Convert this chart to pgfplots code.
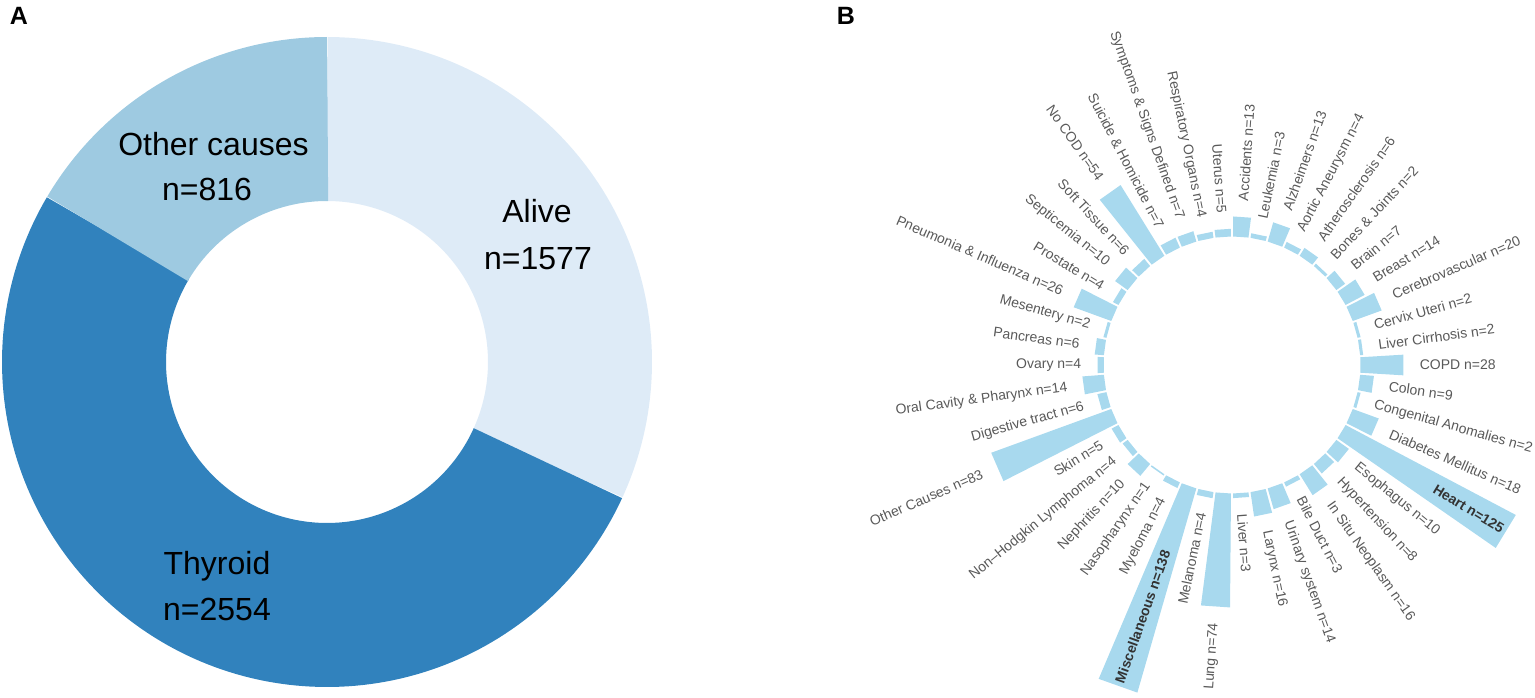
\documentclass[border=0pt]{standalone}
\usepackage{fontspec}
\setmainfont{Liberation Sans}
\setsansfont{Liberation Sans}
\usepackage{pgfplots}
\pgfplotsset{compat=1.18}
\usepgfplotslibrary{polar}

\definecolor{alivecol}{RGB}{222,235,247}
\definecolor{thycol}{RGB}{49,130,189}
\definecolor{othcol}{RGB}{158,202,225}
\definecolor{barcol}{RGB}{168,217,238}
\definecolor{labgray}{RGB}{89,89,89}
\definecolor{labdark}{RGB}{51,51,51}

% panel A counts
\def\nAlive{1577}
\def\nThy{2554}
\def\nOth{816}

\begin{document}
\begin{tikzpicture}
\useasboundingbox (0,0) rectangle (1535pt,698pt);

% ---------- A: donut ----------
\pgfmathsetmacro\tot{\nAlive+\nThy+\nOth}
\pgfmathsetmacro\aA{90-360*(\nAlive/\tot)}
\pgfmathsetmacro\aB{\aA-360*(\nThy/\tot)}
% small overlaps so no seam shows between wedges
\pgfmathsetmacro\aAo{\aA+0.15}
\pgfmathsetmacro\aBo{\aB+0.15}
\begin{axis}[
    hide axis, clip=false,
    x=1pt, y=1pt,
    xmin=-325, xmax=325, ymin=-325, ymax=325,
    at={(327pt,336pt)}, anchor=center,
    ]
    \addplot[draw=alivecol, line width=164pt, data cs=polar, domain=\aA:90, samples=90] ({x},{243});
    \addplot[draw=thycol, line width=164pt, data cs=polar, domain=\aB:\aAo, samples=140] ({x},{243});
    \addplot[draw=othcol, line width=164pt, data cs=polar, domain=-270.15:\aBo, samples=60] ({x},{243});
\end{axis}

\begin{scope}[every node/.style={font=\fontsize{32}{36}\selectfont, inner sep=0pt, anchor=base}]
    \node at (537pt,475pt) {Alive};
    \node at (538pt,428.4pt) {n=1577};
    \node at (213.5pt,542.6pt) {Other causes};
    \node at (207pt,497.3pt) {n=816};
    \node at (217pt,123.5pt) {Thyroid};
    \node at (217pt,77.3pt) {n=2554};
\end{scope}

\node[font=\fontsize{25}{28}\selectfont\bfseries, inner sep=0pt] at (19pt,682pt) {A};
\node[font=\fontsize{25}{28}\selectfont\bfseries, inner sep=0pt] at (846pt,682pt) {B};

% ---------- B: circular bars ----------
\begin{axis}[
    hide axis, clip=false,
    x=1pt, y=1pt,
    xmin=-300, xmax=300, ymin=-300, ymax=300,
    at={(1232pt,333pt)}, anchor=center,
    ]
    \foreach \n [count=\i from 0] in {13,3,13,4,6,2,7,14,20,2,2,28,9,2,18,125,10,8,16,3,14,16,3,74,4,138,4,1,10,4,5,83,6,14,4,6,2,26,4,10,6,54,7,7,4,5} {
        \pgfmathsetmacro\a{86.087-7.8261*\i-3.45}
        \pgfmathsetmacro\b{86.087-7.8261*\i+3.45}
        \pgfmathsetmacro\r{128.5+1.54*\n}
        \edef\temp{\noexpand\addplot[draw=none, fill=barcol, data cs=polar] coordinates {(\a,128.5) (\a,\r) (\b,\r) (\b,128.5)};}
        \temp
    }
\end{axis}

\begin{scope}[shift={(1232pt,333pt)}]
\foreach \lab/\n [count=\i from 0] in {
    Accidents/13, Leukemia/3, Alzheimers/13, Aortic Aneurysm/4, Atherosclerosis/6,
    Bones \& Joints/2, Brain/7, Breast/14, Cerebrovascular/20, Cervix Uteri/2,
    Liver Cirrhosis/2, COPD/28, Colon/9, Congenital Anomalies/2, Diabetes Mellitus/18,
    Heart/125, Esophagus/10, Hypertension/8, In Situ Neoplasm/16, Bile Duct/3,
    Urinary system/14, Larynx/16, Liver/3, Lung/74, Melanoma/4,
    Miscellaneous/138, Myeloma/4, Nasopharynx/1, Nephritis/10, Non--Hodgkin Lymphoma/4,
    Skin/5, Other Causes/83, Digestive tract/6, Oral Cavity \& Pharynx/14, Ovary/4,
    Pancreas/6, Mesentery/2, Pneumonia \& Influenza/26, Prostate/4, Septicemia/10,
    Soft Tissue/6, No COD/54, Suicide \& Homicide/7, Symptoms \& Signs Defined/7, Respiratory Organs/4,
    Uterus/5} {
    \pgfmathsetmacro\ang{86.087-7.8261*\i}
    \pgfmathsetmacro\rend{128.5+1.54*\n}
    \pgfmathsetmacro\rout{\rend+16}
    \pgfmathsetmacro\rin{\rend-4}
    \pgfmathsetmacro\angb{\ang+180}
    \ifnum\i=15
        \node[rotate=\ang, anchor=east, inner sep=0pt, text=labdark,
              font=\fontsize{14}{16}\selectfont\bfseries] at (\ang:\rin pt) {\lab\ n=\n};
    \else\ifnum\i=25
        \node[rotate=\angb, anchor=west, inner sep=0pt, text=labdark,
              font=\fontsize{14}{16}\selectfont\bfseries] at (\ang:\rin pt) {\lab\ n=\n};
    \else
        \ifdim\ang pt<-90pt
            \node[rotate=\angb, anchor=east, inner sep=0pt, text=labgray,
                  font=\fontsize{14}{16}\selectfont] at (\ang:\rout pt) {\lab\ n=\n};
        \else
            \node[rotate=\ang, anchor=west, inner sep=0pt, text=labgray,
                  font=\fontsize{14}{16}\selectfont] at (\ang:\rout pt) {\lab\ n=\n};
        \fi
    \fi\fi
}
\end{scope}
\end{tikzpicture}
\end{document}
